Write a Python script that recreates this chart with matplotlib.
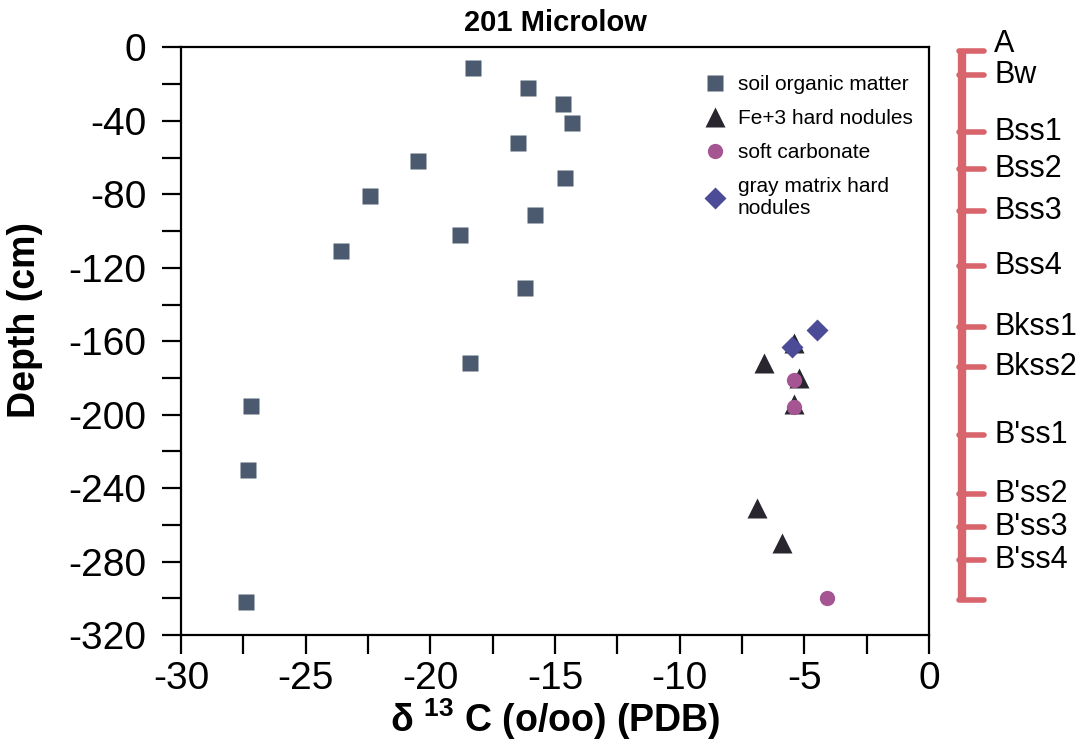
import matplotlib.pyplot as plt
from matplotlib.ticker import MultipleLocator

plt.rcParams['font.family'] = ['Liberation Sans', 'DejaVu Sans']
plt.rcParams['axes.unicode_minus'] = False
plt.rcParams['mathtext.fontset'] = 'custom'
plt.rcParams['mathtext.rm'] = 'Liberation Sans:bold'
plt.rcParams['mathtext.it'] = 'Liberation Sans:bold'
plt.rcParams['mathtext.bf'] = 'Liberation Sans:bold'

# soil organic matter
som_x = [-18.3, -16.1, -14.7, -14.3, -16.5, -20.5, -14.6, -22.4, -15.8, -18.8,
         -23.6, -16.2, -18.4, -27.2, -27.3, -27.4]
som_y = [-11, -22, -31, -41, -52, -62, -71, -81, -91, -102,
         -111, -131, -172, -195, -230, -302]

# Fe+3 hard nodules
fe_x = [-6.6, -5.4, -5.2, -5.4, -6.9, -5.9]
fe_y = [-172, -161, -180, -194, -251, -270]

# soft carbonate
carb_x = [-5.4, -5.4, -4.1]
carb_y = [-181, -196, -300]

# gray matrix hard nodules
gray_x = [-4.5, -5.5]
gray_y = [-154, -163]

# soil horizons (depth of boundary marks, cm)
horizons = ["A", "Bw", "Bss1", "Bss2", "Bss3", "Bss4", "Bkss1", "Bkss2",
            "B'ss1", "B'ss2", "B'ss3", "B'ss4"]
horizon_depths = [2, 15, 46, 66, 89, 119, 152, 174, 211, 243, 261, 279]
profile_bottom = 301

fig = plt.figure(figsize=(10.87, 7.41), dpi=100)
ax = fig.add_axes([0.1665, 0.143, 0.6882, 0.793])

ax.plot(som_x, som_y, 's', color='#4b5a6f', ms=11, mec='none',
        label='soil organic matter')
ax.plot(fe_x, fe_y, '^', color='#2a2630', ms=14, mec='none',
        label='Fe+3 hard nodules')
ax.plot(carb_x, carb_y, 'o', color='#a45592', ms=11, mec='none',
        label='soft carbonate')
ax.plot(gray_x, gray_y, 'D', color='#4b4b97', ms=11, mec='none',
        label='gray matrix hard\nnodules')

ax.set_xlim(-30, 0)
ax.set_ylim(-320, 0)
ax.xaxis.set_major_locator(MultipleLocator(5))
ax.xaxis.set_minor_locator(MultipleLocator(2.5))
ax.yaxis.set_major_locator(MultipleLocator(40))
ax.yaxis.set_minor_locator(MultipleLocator(20))
ax.tick_params(which='both', direction='out', length=14, width=1.6,
               labelsize=28)
ax.tick_params(axis='y', pad=11)
ax.tick_params(axis='x', pad=5)
for s in ax.spines.values():
    s.set_linewidth(1.6)

ax.set_xlabel('\u03b4 $^{13}$ C (o/oo) (PDB)', fontsize=27,
              fontweight='bold', labelpad=-1)
fig.text(25 / 1087, 1 - 320 / 741, 'Depth (cm)', fontsize=27,
         fontweight='bold', rotation=90, ha='center', va='center')
ax.set_title('201 Microlow', fontsize=21, fontweight='bold', pad=12)

leg = ax.legend(loc='upper left', bbox_to_anchor=(0.675, 0.985), frameon=False,
                fontsize=15, handletextpad=0.6, labelspacing=0.72,
                handlelength=1.0)

# horizon scale on the right
red = '#d8646c'
ax2 = fig.add_axes([0.875, 0.143, 0.12, 0.793])
ax2.set_xlim(0, 1)
ax2.set_ylim(-320, 0)
ax2.axis('off')
ax2.plot([0.08, 0.08], [-horizon_depths[0], -profile_bottom], color=red,
         lw=6, solid_capstyle='butt')
for d in horizon_depths + [profile_bottom]:
    ax2.plot([0.06, 0.25], [-d, -d], color=red, lw=4, solid_capstyle='round')
for name, d in zip(horizons, horizon_depths):
    yy = -d + 4 if name == "A" else -d
    ax2.text(0.33, yy, name, fontsize=22, va='center', ha='left')

fig.savefig('out.png', dpi=100)
